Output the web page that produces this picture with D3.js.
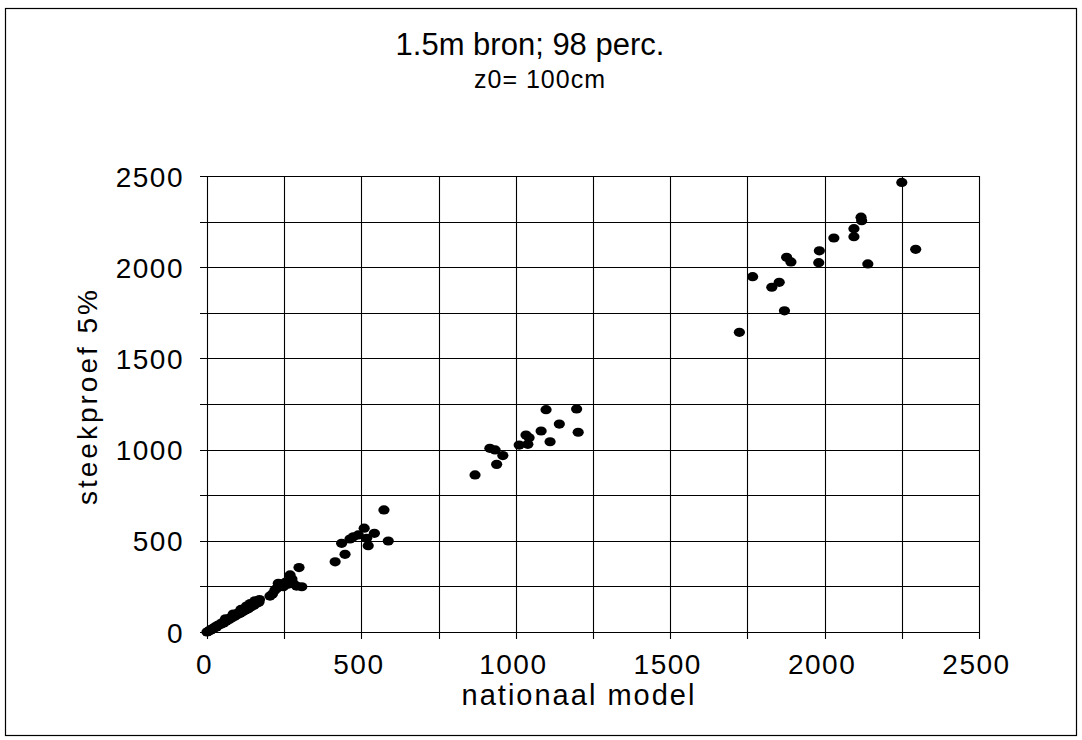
<!DOCTYPE html>
<html>
<head>
<meta charset="utf-8">
<script src="https://cdn.jsdelivr.net/npm/d3@7/dist/d3.min.js"></script>
<style>
  html, body { margin: 0; padding: 0; background: #fff; }
  svg { display: block; }
  text { font-family: "Liberation Sans", Arial, sans-serif; fill: #000; }
</style>
</head>
<body>
<svg id="chart" width="1082" height="740"></svg>
<script>
// ---- data ----
const titleText = "1.5m bron; 98 perc.";
const subtitleText = "z0= 100cm";
const xAxisTitle = "nationaal model";
const yAxisTitle = "steekproef  5%";

const xTickValues = [0, 500, 1000, 1500, 2000, 2500];
const yTickValues = [0, 500, 1000, 1500, 2000, 2500];
const gridStep = 250;

// x = nationaal model, y = steekproef 5%
const nationaalModel = [
  0, 4, 9, 13, 18, 22, 27, 31, 36, 40, 45, 50, 54, 59, 63, 68, 72, 77, 81, 86,
  90, 95, 99, 104, 108, 112, 117, 121, 125, 130, 134, 139, 143, 148, 152, 157, 161, 165, 168,
  60, 85, 110, 128, 140, 155, 170,
  204, 212, 220, 226, 231, 238, 247, 252, 258, 262, 269, 275, 280, 290, 298, 307,
  415, 436, 447, 463, 474, 490, 509, 517, 522, 542, 573, 587,
  868, 916, 933, 938, 958, 1011, 1033, 1039, 1043, 1082, 1098, 1111, 1141, 1197, 1202,
  1724, 1767, 1829, 1853, 1870, 1877, 1891, 1981, 1983, 2030, 2095, 2095, 2118, 2120, 2140, 2250, 2295
];
const steekproef = [
  0, 3, 10, 11, 19, 20, 29, 28, 37, 41, 43, 52, 50, 61, 60, 70, 69, 80, 78, 90,
  87, 99, 96, 108, 103, 116, 112, 126, 121, 135, 128, 143, 138, 152, 147, 160, 158, 168, 163,
  72, 98, 124, 142, 156, 171, 178,
  197, 208, 230, 240, 267, 255, 248, 270, 276, 262, 313, 290, 265, 252, 353, 248,
  385, 486, 426, 510, 522, 532, 569, 514, 473, 541, 669, 499,
  861, 1007, 998, 919, 967, 1025, 1080, 1029, 1065, 1102, 1219, 1043, 1140, 1223, 1095,
  1643, 1948, 1890, 1917, 1761, 2054, 2029, 2025, 2090, 2160, 2211, 2167, 2274, 2255, 2018, 2465, 2098
];

// ---- layout ----
const plot = { left: 207, right: 979, top: 176, bottom: 632 };

const svg = d3.select("#chart");

// outer frame
svg.append("rect")
  .attr("x", 5.5).attr("y", 8.5)
  .attr("width", 1071).attr("height", 727)
  .attr("fill", "none").attr("stroke", "#000").attr("stroke-width", 1.2);

const x = d3.scaleLinear().domain([0, 2500]).range([plot.left, plot.right]);
const y = d3.scaleLinear().domain([0, 2500]).range([plot.bottom, plot.top]);

const gridVals = d3.range(0, 2500 + 1, gridStep);

// gridlines (with outward tick stubs)
const grid = svg.append("g").attr("stroke", "#000").attr("stroke-width", 1.1);
grid.selectAll("line.v").data(gridVals).join("line")
  .attr("class", "v")
  .attr("x1", d => Math.round(x(d)) + 0.5).attr("x2", d => Math.round(x(d)) + 0.5)
  .attr("y1", plot.top).attr("y2", plot.bottom + 7);
grid.selectAll("line.h").data(gridVals).join("line")
  .attr("class", "h")
  .attr("x1", plot.left - 7).attr("x2", plot.right)
  .attr("y1", d => Math.round(y(d)) + 0.5).attr("y2", d => Math.round(y(d)) + 0.5);

// axis labels via d3 axes (grid draws the tick lines)
const fmt = d3.format("d");
const xAxis = d3.axisBottom(x).tickValues(xTickValues).tickFormat(fmt).tickSize(0).tickPadding(0);
const gx = svg.append("g").attr("transform", `translate(-3, 674)`).call(xAxis);
gx.select(".domain").remove();
gx.selectAll("text")
  .attr("dy", 0).attr("y", 0)
  .style("font-size", "28px")
  .style("letter-spacing", "1.5px")
  .attr("font-family", null);

const yAxis = d3.axisLeft(y).tickValues(yTickValues).tickFormat(fmt).tickSize(0).tickPadding(0);
const gy = svg.append("g").attr("transform", `translate(184, 0)`).call(yAxis);
gy.select(".domain").remove();
gy.selectAll("text")
  .attr("dy", "0.36em").attr("x", 0)
  .style("font-size", "28px")
  .style("letter-spacing", "1.5px")
  .attr("font-family", null);

// points
svg.append("g").selectAll("ellipse")
  .data(nationaalModel.map((v, i) => [v, steekproef[i]]))
  .join("ellipse")
  .attr("cx", d => x(d[0]))
  .attr("cy", d => y(d[1]))
  .attr("rx", 5.6).attr("ry", 4.6)
  .attr("fill", "#000");

// titles
svg.append("text")
  .attr("x", 530).attr("y", 55)
  .attr("text-anchor", "middle")
  .style("font-size", "31px")
  .text(titleText);

svg.append("text")
  .attr("x", 540).attr("y", 88)
  .attr("text-anchor", "middle")
  .style("font-size", "25px")
  .style("letter-spacing", "1px")
  .text(subtitleText);

svg.append("text")
  .attr("x", 579).attr("y", 705)
  .attr("text-anchor", "middle")
  .style("font-size", "29px")
  .style("letter-spacing", "2px")
  .text(xAxisTitle);

svg.append("text")
  .attr("transform", "translate(97, 396) rotate(-90)")
  .attr("text-anchor", "middle")
  .style("font-size", "28px")
  .style("letter-spacing", "3px")
  .text(yAxisTitle);
</script>
</body>
</html>
